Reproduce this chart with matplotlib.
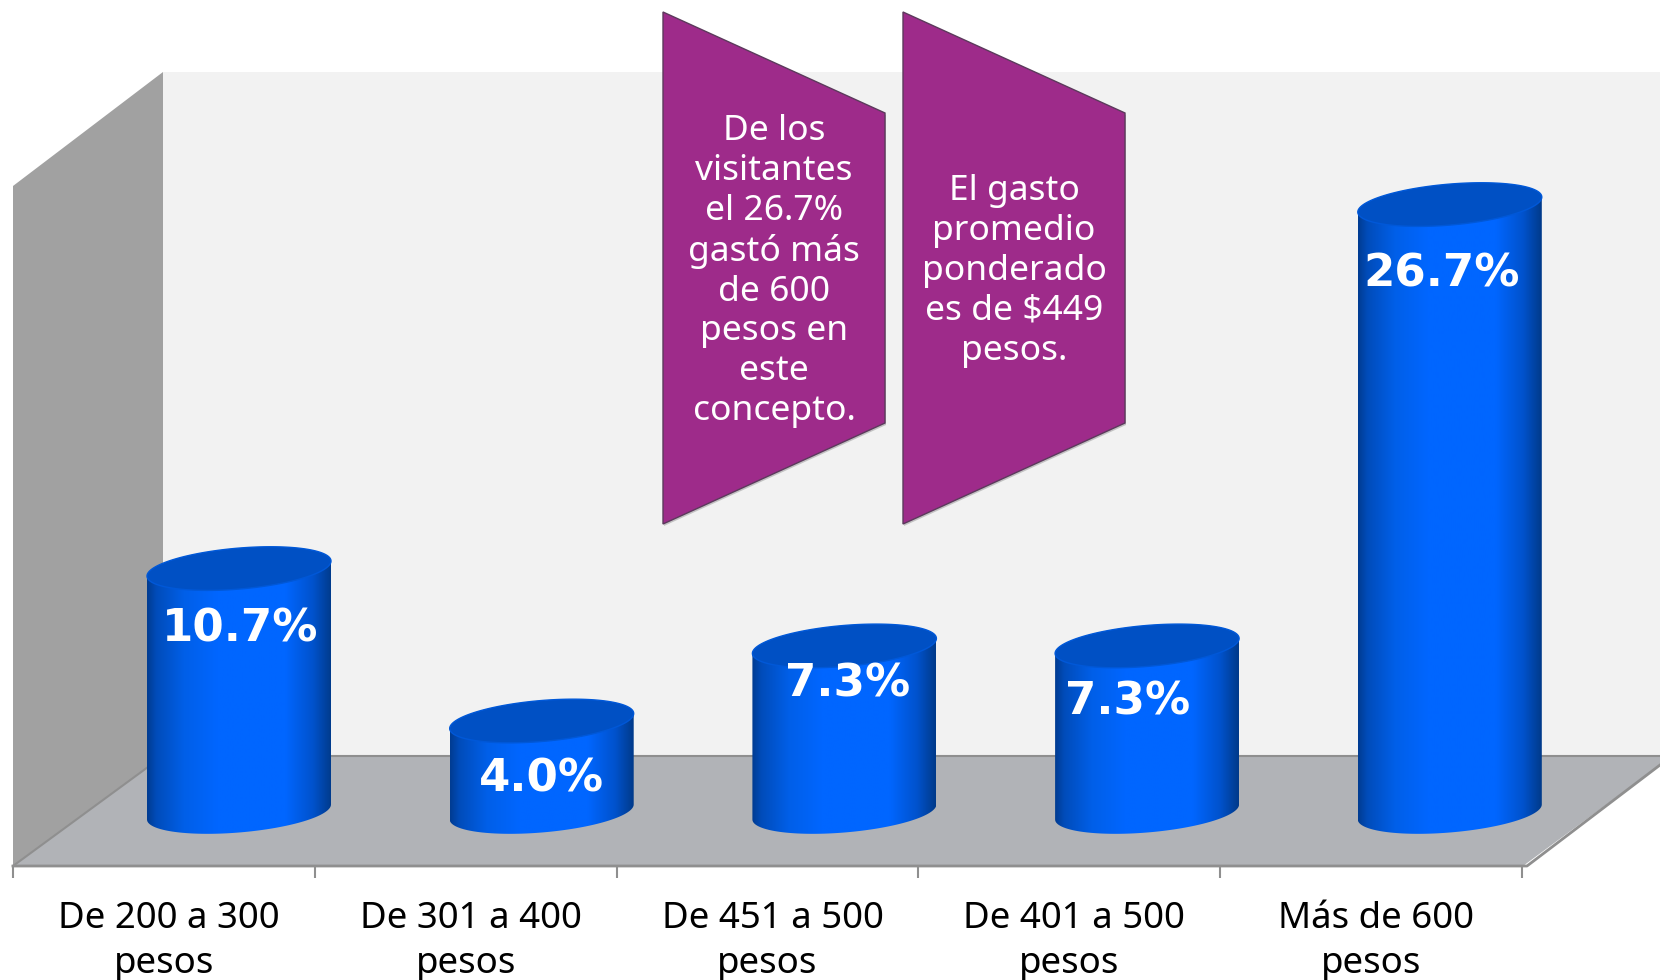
import numpy as np
import matplotlib
matplotlib.use('Agg')
import matplotlib.pyplot as plt
from matplotlib.colors import LinearSegmentedColormap
from matplotlib.patches import Polygon

categorias = ['De 200 a 300', 'De 301 a 400', 'De 451 a 500', 'De 401 a 500', 'Más de 600']
segunda_linea = ['pesos', 'pesos', 'pesos', 'pesos', 'pesos']
valores = [10.7, 4.0, 7.3, 7.3, 26.7]
nota_1 = 'De los\nvisitantes\nel 26.7%\ngastó más\nde 600\npesos en\neste\nconcepto.'
nota_2 = 'El gasto\npromedio\nponderado\nes de $449\npesos.'

# escala en pixeles de la figura
PX_CAT = 301.8
PX_PCT = 22.75
X0 = 13
Y0 = 812


def dx(px):
    return (np.asarray(px, dtype=float) - X0) / PX_CAT


def dy(py):
    return (Y0 - np.asarray(py, dtype=float)) / PX_PCT


def poligono(ax, puntos, **kw):
    xs, ys = zip(*puntos)
    p = Polygon(np.column_stack([dx(xs), dy(ys)]), closed=True, **kw)
    ax.add_patch(p)
    return p


fig = plt.figure(figsize=(16.6, 9.8), dpi=100, facecolor='white')
ax = fig.add_axes([0, 0, 1, 1])
ax.axis('off')

# paredes y piso
poligono(ax, [(163, 72), (1660, 72), (1660, 756), (163, 756)], fc='#f2f2f2', ec='none', zorder=1)
poligono(ax, [(13, 186), (163, 72), (163, 756), (13, 866)], fc='#a1a1a1', ec='none', zorder=1)
poligono(ax, [(13, 866), (163, 756), (1660, 756), (1660, 765), (1523, 866)],
         fc='#b1b3b7', ec='none', zorder=2)
ax.plot(dx([13, 163, 1660]), dy([866, 756, 756]), color='#8f8f8f', lw=1.5, zorder=3)
ax.plot(dx([13, 1527, 1660]), dy([866, 866, 765]), color='#8f8f8f', lw=2, zorder=3)
ax.vlines(np.arange(6), dy(866), dy(878), color='#8f8f8f', lw=1.5, zorder=3)

# cilindros
sombra = LinearSegmentedColormap.from_list('cil', [
    (0.0, '#003c92'), (0.05, '#004cba'), (0.2, '#005fe8'), (0.38, '#0066ff'),
    (0.75, '#0066ff'), (0.9, '#0052cc'), (1.0, '#003a8a')])
gradiente = np.linspace(0, 1, 256).reshape(1, -1)
t_abajo = np.linspace(np.pi, 0, 80)
t_todo = np.linspace(0, 2 * np.pi, 160)
radio = 92
incl = 7.5
alto = 20.5

for i, v in enumerate(valores):
    cx = dx(239 + i * 302.7)
    ancho = radio / PX_CAT
    base_x = cx + ancho * np.cos(t_abajo)
    base_y = (-(-incl * np.cos(t_abajo) + alto * np.sin(t_abajo))) / PX_PCT
    arriba_x = cx + ancho * np.cos(t_todo)
    arriba_y = v - (-incl * np.cos(t_todo) + alto * np.sin(t_todo)) / PX_PCT
    cuerpo = Polygon(np.column_stack([
        np.r_[base_x, cx + ancho, cx - ancho],
        np.r_[base_y, v + incl / PX_PCT, v - incl / PX_PCT]]),
        closed=True, fc='none', ec='none', transform=ax.transData)
    ax.add_patch(cuerpo)
    im = ax.imshow(gradiente, cmap=sombra, aspect='auto', zorder=4, interpolation='bilinear',
                   extent=[cx - ancho, cx + ancho, -2, v + 2])
    im.set_clip_path(cuerpo)
    ax.fill(arriba_x, arriba_y, fc='#0050c4', ec='#0058d8', lw=1, zorder=5)

# etiquetas de valor
pos_etiquetas = [(240, 629), (541, 779), (848, 684), (1128, 702), (1442, 274)]
for v, (px, py) in zip(valores, pos_etiquetas):
    ax.text(dx(px), dy(py), f'{v:.1f}%', color='white', fontsize=32.5, fontweight='bold',
            family='DejaVu Sans', ha='center', va='center', zorder=6)

# ejes de categoria
centros = np.arange(5) + 0.5
for c, a, b in zip(centros, categorias, segunda_linea):
    ax.text(c + 5 / PX_CAT, dy(919), a, fontsize=26.4, family='Noto Sans', color='black',
            ha='center', va='center', zorder=6)
    ax.text(c, dy(964), b, fontsize=26.4, family='Noto Sans', color='black',
            ha='center', va='center', zorder=6)

# notas moradas
for izq, texto, cx in [(663, nota_1, 774), (903, nota_2, 1014)]:
    der = izq + 222
    forma = [(izq, 12), (der, 113), (der, 423), (izq, 524)]
    poligono(ax, [(a + 1, b + 2) for a, b in forma], fc='#555555', ec='none', alpha=0.3, zorder=7)
    poligono(ax, forma, fc='#9e2b8a', ec='#5c3a5c', lw=1, zorder=8)
    ax.text(dx(cx), dy(271), texto, color='white', fontsize=25.5, family='Noto Sans', ha='center',
            va='center', linespacing=1.226, zorder=9)

ax.set_xlim(dx(0), dx(1660))
ax.set_ylim(dy(980), dy(0))

fig.savefig('out.png', dpi=100)
